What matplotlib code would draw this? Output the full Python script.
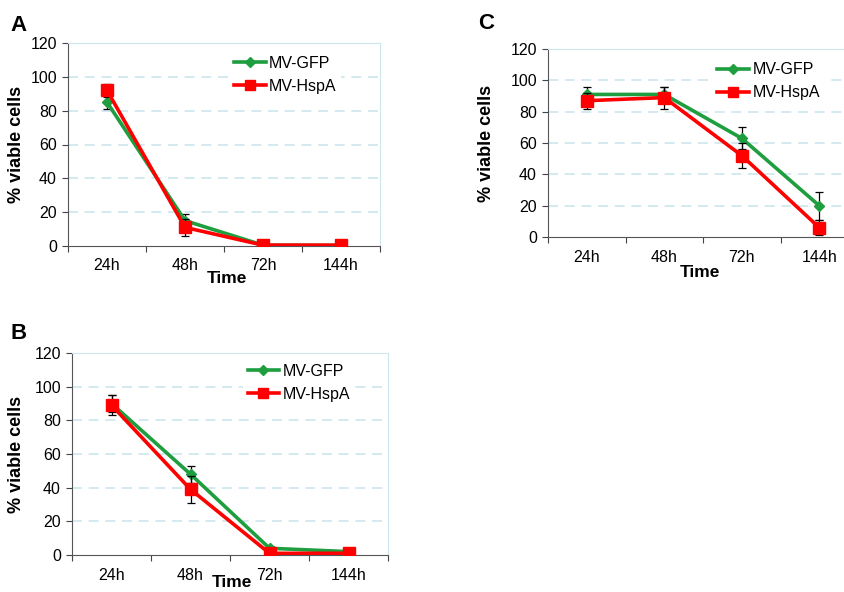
import matplotlib
matplotlib.use("Agg")
import matplotlib.pyplot as plt
from matplotlib.lines import Line2D
import numpy as np

plt.rcParams['font.family'] = ['Liberation Sans', 'DejaVu Sans']

# x categories
times = ["24h", "48h", "72h", "144h"]

# panel A
a_gfp = [85, 15, 0.5, 0.3]
a_gfp_err = [4, 4, 0.5, 0.3]
a_hsp = [92, 11, 0.5, 0.5]
a_hsp_err = [4, 5, 0.5, 0.5]

# panel B
b_gfp = [90, 48, 4, 2]
b_gfp_err = [5, 5, 1.5, 0.5]
b_hsp = [89, 39, 1, 1]
b_hsp_err = [6, 8, 1, 1]

# panel C
c_gfp = [91, 91, 63, 20]
c_gfp_err = [5, 5, 7, 9]
c_hsp = [87, 89, 52, 6]
c_hsp_err = [5, 7, 8, 5]

green = "#1e9e3e"
red = "#ff0000"
grid_c = "#cde6ee"

W, H = 844, 592
fig = plt.figure(figsize=(W / 100, H / 100), dpi=100)


def px_axes(left, top, right, bottom):
    return fig.add_axes([left / W, (H - bottom) / H, (right - left) / W, (bottom - top) / H])


def panel(ax, gfp, gfp_err, hsp, hsp_err, leg_anchor, ylab_x, xlab_xy):
    x = np.arange(len(times))
    ax.errorbar(x, gfp, yerr=gfp_err, color=green, lw=2.6, marker="D", ms=5.5,
                ecolor="black", elinewidth=0.9, capsize=3, capthick=0.9, zorder=3)
    ax.errorbar(x, hsp, yerr=hsp_err, color=red, lw=2.6, marker="s", ms=8.5,
                ecolor="black", elinewidth=0.9, capsize=3, capthick=0.9, zorder=4)
    ax.set_xlim(-0.5, len(times) - 0.5)
    ax.set_ylim(0, 120)
    ax.set_yticks(range(0, 121, 20))
    ax.set_xticks(np.arange(-0.5, len(times), 1.0))
    ax.set_xticklabels([])
    ax.set_xticks(x, minor=True)
    ax.set_xticklabels(times, minor=True)
    ax.tick_params(axis="x", which="minor", length=0, pad=9, labelsize=11.5)
    ax.tick_params(axis="x", which="major", length=4, color="#444444")
    ax.tick_params(axis="y", length=4, color="#444444", labelsize=11.5, pad=4)
    for yv in range(20, 101, 20):
        ax.axhline(yv, color=grid_c, lw=1.2, ls=(0, (6, 4)), zorder=0)
    for s in ["top", "right"]:
        ax.spines[s].set_color(grid_c)
    for s in ["left", "bottom"]:
        ax.spines[s].set_color("#555555")
    ax.set_ylabel("% viable cells", fontsize=13, fontweight="bold")
    ax.yaxis.set_label_coords(ylab_x, 0.5)
    ax.set_xlabel("Time", fontsize=12.5, fontweight="bold")
    ax.xaxis.set_label_coords(*xlab_xy)
    handles = [Line2D([], [], color=green, lw=2.6, marker="D", ms=5.5),
               Line2D([], [], color=red, lw=2.6, marker="s", ms=7.5)]
    leg = ax.legend(handles, ["MV-GFP", "MV-HspA"], loc="upper left",
                    bbox_to_anchor=leg_anchor, frameon=True,
                    fontsize=11.5, handlelength=2.0, handletextpad=0.2,
                    labelspacing=0.5, borderpad=0.3)
    leg.get_frame().set_edgecolor("none")
    leg.get_frame().set_facecolor("white")
    leg.get_frame().set_alpha(1)


axA = px_axes(68, 43, 380, 246)
panel(axA, a_gfp, a_gfp_err, a_hsp, a_hsp_err, (0.49, 1.0), -0.138, (0.51, -0.125))
axB = px_axes(72, 353, 388, 555)
panel(axB, b_gfp, b_gfp_err, b_hsp, b_hsp_err, (0.515, 1.01), -0.149, (0.506, -0.10))
axC = px_axes(548, 49, 858, 237)
panel(axC, c_gfp, c_gfp_err, c_hsp, c_hsp_err, (0.505, 0.997), -0.171, (0.49, -0.15))

fig.text(10 / W, 1 - 31 / H, "A", fontsize=16, fontweight="bold")
fig.text(10 / W, 1 - 339 / H, "B", fontsize=16, fontweight="bold")
fig.text(478 / W, 1 - 29 / H, "C", fontsize=16, fontweight="bold")

fig.savefig("out.png", dpi=100, facecolor="white")
